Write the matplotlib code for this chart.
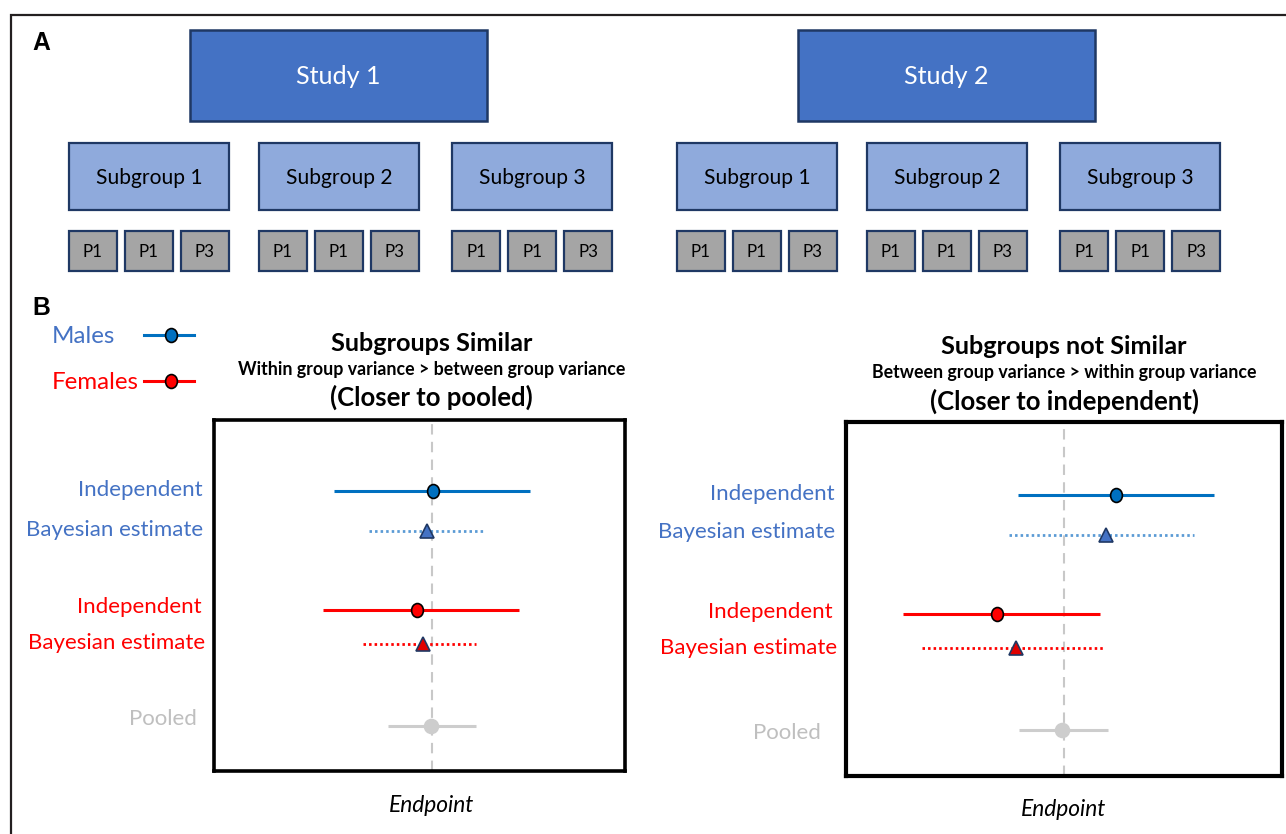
import matplotlib
matplotlib.use('Agg')
import matplotlib.pyplot as plt
from matplotlib.patches import Rectangle
from matplotlib.markers import MarkerStyle
from matplotlib.transforms import Affine2D, blended_transform_factory

# ------------------------------------------------------------------ data
studies = ['Study 1', 'Study 2']
subgroups = ['Subgroup 1', 'Subgroup 2', 'Subgroup 3']
participants = ['P1', 'P1', 'P3']

legend_labels = ['Males', 'Females']
row_labels = ['Independent', 'Bayesian estimate', 'Independent',
              'Bayesian estimate', 'Pooled']

panel_titles = ['Subgroups Similar', 'Subgroups not Similar']
panel_subtitles = ['Within group variance > between group variance',
                   'Between group variance > within group variance']
panel_notes = ['(Closer to pooled)', '(Closer to independent)']
x_label = 'Endpoint'

# point estimates and interval limits (endpoint units, 0 = pooled reference)
similar_est = [0.01, -0.05, -0.15, -0.09, -0.01]
similar_lo = [-0.98, -0.63, -1.09, -0.69, -0.44]
similar_hi = [0.98, 0.51, 0.87, 0.44, 0.44]

notsim_est = [0.52, 0.42, -0.67, -0.48, -0.02]
notsim_lo = [-0.46, -0.55, -1.61, -1.42, -0.45]
notsim_hi = [1.50, 1.30, 0.36, 0.39, 0.44]

# ------------------------------------------------------------------ styles
W, H, DPI = 1286, 834, 100
plt.rcParams['font.family'] = ['Lato', 'DejaVu Sans']

BLUE_TXT = '#4472C4'
BLUE_LINE = '#0070C0'
BLUE_DOT = '#5B9BD5'
RED = '#FF0000'
GREY_TXT = '#BFBFBF'
GREY = '#CDCDCD'
NAVY = '#1F3864'

ellipse = MarkerStyle('o', transform=Affine2D().scale(0.85, 1.0))
row_styles = [
    dict(lc=BLUE_LINE, ls='-', lw=2.2, m=ellipse, mfc=BLUE_LINE, mec='black', ms=10, tc=BLUE_TXT),
    dict(lc=BLUE_DOT, ls=(0, (0.9, 1.1)), lw=2.0, m='^', mfc=BLUE_TXT, mec=NAVY, ms=10, tc=BLUE_TXT),
    dict(lc=RED, ls='-', lw=2.2, m=ellipse, mfc=RED, mec='black', ms=10, tc=RED),
    dict(lc=RED, ls=(0, (0.9, 1.1)), lw=2.0, m='^', mfc='#E00000', mec=NAVY, ms=10, tc=RED),
    dict(lc=GREY, ls='-', lw=2.2, m='o', mfc=GREY, mec=GREY, ms=10, tc=GREY_TXT),
]
row_pos = [0, 1, 2.97, 3.83, 5.88]

fig = plt.figure(figsize=(W / DPI, H / DPI), dpi=DPI)
fig.patch.set_facecolor('white')

bg = fig.add_axes([0, 0, 1, 1])
bg.set_xlim(0, W)
bg.set_ylim(H, 0)
bg.axis('off')

fit_groups = []  # (texts, index of representative, target width px)

# outer frame (left + top)
bg.plot([11, 11, W + 5], [H + 5, 15, 15], color='#231F20', lw=1.6,
        solid_joinstyle='miter')

# panel letters
tA = bg.text(32, 43, 'A', family=['Liberation Sans', 'DejaVu Sans'],
             weight='bold', ha='left', va='center', fontsize=14)
tB = bg.text(32, 308, 'B', family=['Liberation Sans', 'DejaVu Sans'],
             weight='bold', ha='left', va='center', fontsize=14)
fit_groups.append(([tA, tB], 0, 18))

# ------------------------------------------------------------------ panel A hierarchy
block_dx = [0, 608]
study_box = (190, 30, 297, 91)
sub_x0 = [69, 259, 452]
sub_y, sub_w, sub_h = 143, 160, 67
p_dx, p_y, p_w, p_h = 56, 231, 48, 40

study_texts, sub_texts, p_texts = [], [], []
for i, s in enumerate(studies):
    off = block_dx[i]
    x, y, w, h = study_box
    bg.add_patch(Rectangle((x + off, y), w, h, fc='#4472C4', ec=NAVY, lw=1.8))
    study_texts.append(bg.text(x + off + w / 2, y + h / 2 + 1, s, color='white',
                               ha='center', va='center', fontsize=16))
    for j, sg in enumerate(subgroups):
        sx = sub_x0[j] + off
        bg.add_patch(Rectangle((sx, sub_y), sub_w, sub_h, fc='#8FAADC', ec=NAVY, lw=1.6))
        sub_texts.append(bg.text(sx + sub_w / 2, sub_y + sub_h / 2 + 1, sg, color='black',
                                 ha='center', va='center', fontsize=14))
        for k, p in enumerate(participants):
            px = sx + k * p_dx
            bg.add_patch(Rectangle((px, p_y), p_w, p_h, fc='#A5A5A5', ec=NAVY, lw=1.6))
            p_texts.append(bg.text(px + p_w / 2, p_y + p_h / 2 + 1, p, color='black',
                                   ha='center', va='center', fontsize=10))
fit_groups.append((study_texts, 0, 85))
fit_groups.append((sub_texts, 0, 107))
fit_groups.append((p_texts, 0, 20))

# ------------------------------------------------------------------ legend
leg_texts = []
for lab, col, ty, st in zip(legend_labels, [BLUE_TXT, RED], [336, 382],
                            [row_styles[0], row_styles[2]]):
    leg_texts.append(bg.text(52, ty, lab, color=col, ha='left', va='center', fontsize=14))
    bg.plot([144, 194], [ty - 1, ty - 1], color=st['lc'], lw=2.2)
    bg.plot([171], [ty - 1], marker=ellipse, ms=10, mfc=st['mfc'], mec='black', mew=1.2)
fit_groups.append((leg_texts, 1, 87))


# ------------------------------------------------------------------ panel B forests
def px_axes(x0, y0, x1, y1):
    return fig.add_axes([x0 / W, 1 - y1 / H, (x1 - x0) / W, (y1 - y0) / H])


def forest(box, xlim, ylim, est, lo, hi, lab_dx, lab_dy, title_ys, end_y, spine_lw):
    ax = px_axes(*box)
    ax.set_xlim(*xlim)
    ax.set_ylim(*ylim)
    ax.set_xticks([])
    ax.set_yticks([])
    for sp in ax.spines.values():
        sp.set_linewidth(spine_lw)
        sp.set_color('black')
    ax.axvline(0, color='#C8C8C8', lw=1.5, dashes=(5, 3.5), zorder=1)
    labels = []
    for i in range(len(est)):
        st = row_styles[i]
        ax.hlines(row_pos[i], lo[i], hi[i], colors=st['lc'], lw=st['lw'],
                  linestyles=st['ls'], zorder=2)
        ax.plot([est[i]], [row_pos[i]], marker=st['m'], ms=st['ms'],
                mfc=st['mfc'], mec=st['mec'], mew=1.2, ls='none', zorder=3)
        labels.append(ax.annotate(row_labels[i], xy=(0, row_pos[i]),
                                  xycoords=('axes fraction', 'data'),
                                  xytext=(-lab_dx[i], lab_dy[i]),
                                  textcoords='offset pixels', ha='right',
                                  va='center', color=st['tc'], fontsize=15,
                                  annotation_clip=False))
    tr = blended_transform_factory(ax.transData, bg.transData)
    k = panel_titles.index(title_ys[0])
    t1 = bg.text(0, title_ys[1], panel_titles[k], transform=tr, ha='center',
                 va='center', weight='bold', fontsize=16)
    t2 = bg.text(0, title_ys[2], panel_subtitles[k], transform=tr, ha='center',
                 va='center', weight='bold', fontsize=10)
    t3 = bg.text(0, title_ys[3], panel_notes[k], transform=tr, ha='center',
                 va='center', weight='bold', fontsize=16)
    te = bg.text(0, end_y, x_label, transform=tr, ha='center', va='center',
                 style='italic', fontsize=14)
    return ax, labels, [t1, t2, t3], te


axL, labL, titL, endL = forest(
    (214, 420, 625, 771), (-2.178, 1.932), (7.0, -1.775),
    similar_est, similar_lo, similar_hi,
    [11, 11, 12, 9, 17], [1, 1, 3, 1, 7],
    (panel_titles[0], 343, 369, 397), 806, 2.6)

axR, labR, titR, endR = forest(
    (846, 422, 1282, 776), (-2.18, 2.18), (7.025, -1.825),
    notsim_est, notsim_lo, notsim_hi,
    [11, 11, 13, 9, 25], [1, 3, 2, 0, -3],
    (panel_titles[1], 346, 372, 401), 810, 3.0)

fit_groups.append((labL + labR, 1, 177))
fit_groups.append(([titL[0], titR[0]], 0, 203))
fit_groups.append(([titL[1], titR[1]], 0, 387))
fit_groups.append(([titL[2], titR[2]], 0, 203))
fit_groups.append(([endL, endR], 0, 86))

# ------------------------------------------------------------------ size text to match
renderer = fig.canvas.get_renderer()
for texts, rep, target in fit_groups:
    w = texts[rep].get_window_extent(renderer).width
    fs = texts[rep].get_fontsize() * target / w
    for t in texts:
        t.set_fontsize(fs)

fig.savefig('out.png', dpi=DPI, facecolor='white')
